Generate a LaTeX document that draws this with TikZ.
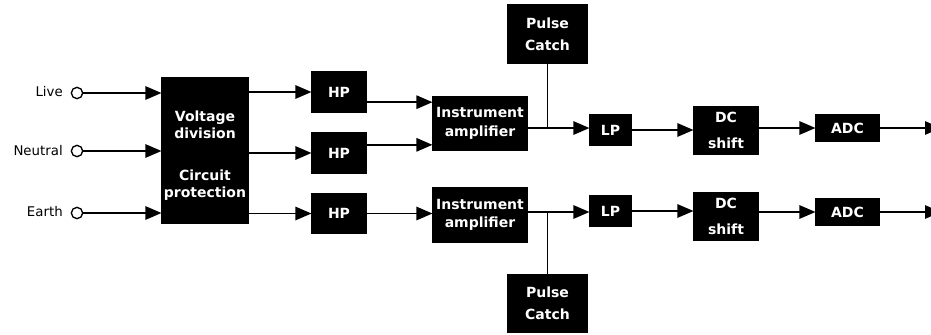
\documentclass[tikz,border=0pt]{standalone}
\usepackage{fontspec}
\setmainfont{DejaVu Sans}
\usetikzlibrary{arrows.meta}
\begin{document}
\begin{tikzpicture}[x=0.75pt,y=-0.75pt,
  blk/.style={draw=black, fill=black, line width=0.8pt, inner sep=0pt, text=white,
    font=\fontsize{10.5}{12}\selectfont\bfseries, align=center},
  txt/.style={text=white, inner sep=0pt, align=center},
  lab/.style={font=\fontsize{10}{12}\selectfont, inner sep=0pt},
  term/.style={draw=black, circle, line width=1pt, minimum size=8.5pt, inner sep=0pt},
  ln/.style={line width=1.3pt},
  arr/.style={line width=1.3pt, -{Triangle[length=12pt,width=10pt]}}]
\useasboundingbox (0,0) rectangle (931,335);
% input labels and terminals
\node[lab, anchor=east] (liveL) at (63,92) {Live};
\node[lab, anchor=east] (neutL) at (63,151) {Neutral};
\node[lab, anchor=east] (earthL) at (63,212) {Earth};
\node[term] (cL) at (77,93) {};
\node[term] (cN) at (77,151) {};
\node[term] (cE) at (77,213) {};
% big box
\node[blk, minimum width=64.5pt, minimum height=108.75pt] (big) at (205,150.5) {};
\node[txt, font=\fontsize{10.5}{12.75}\selectfont\bfseries] (bigtxt) at (205,155.5)
  {Voltage\\division\\[18.75pt]Circuit\\protection};
% HP
\node[blk, minimum width=40.5pt, minimum height=30pt] (hp1) at (339,92) {HP};
\node[blk, minimum width=40.5pt, minimum height=30pt] (hp2) at (339,153) {HP};
\node[blk, minimum width=40.5pt, minimum height=30pt] (hp3) at (339,213.5) {HP};
% amplifiers
\node[blk, minimum width=70.5pt, minimum height=40.5pt, font=\fontsize{10.5}{14}\selectfont\bfseries] (amp1) at (480,123.5) {Instrument\\amplifier};
\node[blk, minimum width=70.5pt, minimum height=40.5pt, font=\fontsize{10.5}{14}\selectfont\bfseries] (amp2) at (480,215) {Instrument\\amplifier};
% pulse catch
\node[blk, minimum width=59.25pt, minimum height=43.5pt, font=\fontsize{10.5}{16.5}\selectfont\bfseries] (pc1) at (547.5,34) {Pulse\\Catch};
\node[blk, minimum width=59.25pt, minimum height=43.5pt, font=\fontsize{10.5}{16.5}\selectfont\bfseries] (pc2) at (547.5,303.5) {Pulse\\Catch};
% LP
\node[blk, minimum width=30.75pt, minimum height=22.5pt] (lp1) at (610.5,130) {LP};
\node[blk, minimum width=30.75pt, minimum height=22.5pt] (lp2) at (610.5,211) {LP};
% DC shift
\node[blk, minimum width=48pt, minimum height=35.25pt, font=\fontsize{10.5}{20}\selectfont\bfseries] (dc1) at (726,130.5) {DC\\shift};
\node[blk, minimum width=48pt, minimum height=35.25pt, font=\fontsize{10.5}{20}\selectfont\bfseries] (dc2) at (726,216.5) {DC\\shift};
% ADC
\node[blk, minimum width=47.25pt, minimum height=20pt] (adc1) at (847.5,128) {ADC};
\node[blk, minimum width=47.25pt, minimum height=20pt] (adc2) at (847.5,212) {ADC};
% helper coordinates
\coordinate (a1in1) at ([yshift=16pt]amp1.west);
\coordinate (a1in2) at ([yshift=-16pt]amp1.west);
\coordinate (a1out) at ([yshift=-3.4pt]amp1.east);
\coordinate (a2out) at ([yshift=2.25pt]amp2.east);
\coordinate (out1) at (941,128);
\coordinate (out2) at (941,212);
% connectors
\draw[arr] (cL) -- (cL -| big.west);
\draw[arr] (cN) -- (cN -| big.west);
\draw[arr] (cE) -- (cE -| big.west);
\draw[arr] (big.east |- hp1.west) -- (hp1.west);
\draw[arr] (big.east |- hp2.west) -- (hp2.west);
\draw[arr] (big.east |- hp3.west) -- (hp3.west);
\draw[arr] (hp1.east |- a1in1) -- (a1in1);
\draw[arr] (hp2.east |- a1in2) -- (a1in2);
\draw[arr] (hp3.east) -- (hp3.east -| amp2.west);
\draw[arr] (a1out) -- (a1out -| lp1.west);
\draw[arr] (a2out) -- (a2out -| lp2.west);
\draw[ln] (pc1.south) -- (pc1.south |- a1out);
\draw[ln] (pc2.north) -- (pc2.north |- a2out);
\draw[arr] (lp1.east) -- (lp1.east -| dc1.west);
\draw[arr] (lp2.east) -- (lp2.east -| dc2.west);
\draw[arr] (dc1.east |- adc1.west) -- (adc1.west);
\draw[arr] (dc2.east |- adc2.west) -- (adc2.west);
\draw[arr] (adc1.east) -- (out1);
\draw[arr] (adc2.east) -- (out2);
\end{tikzpicture}
\end{document}
